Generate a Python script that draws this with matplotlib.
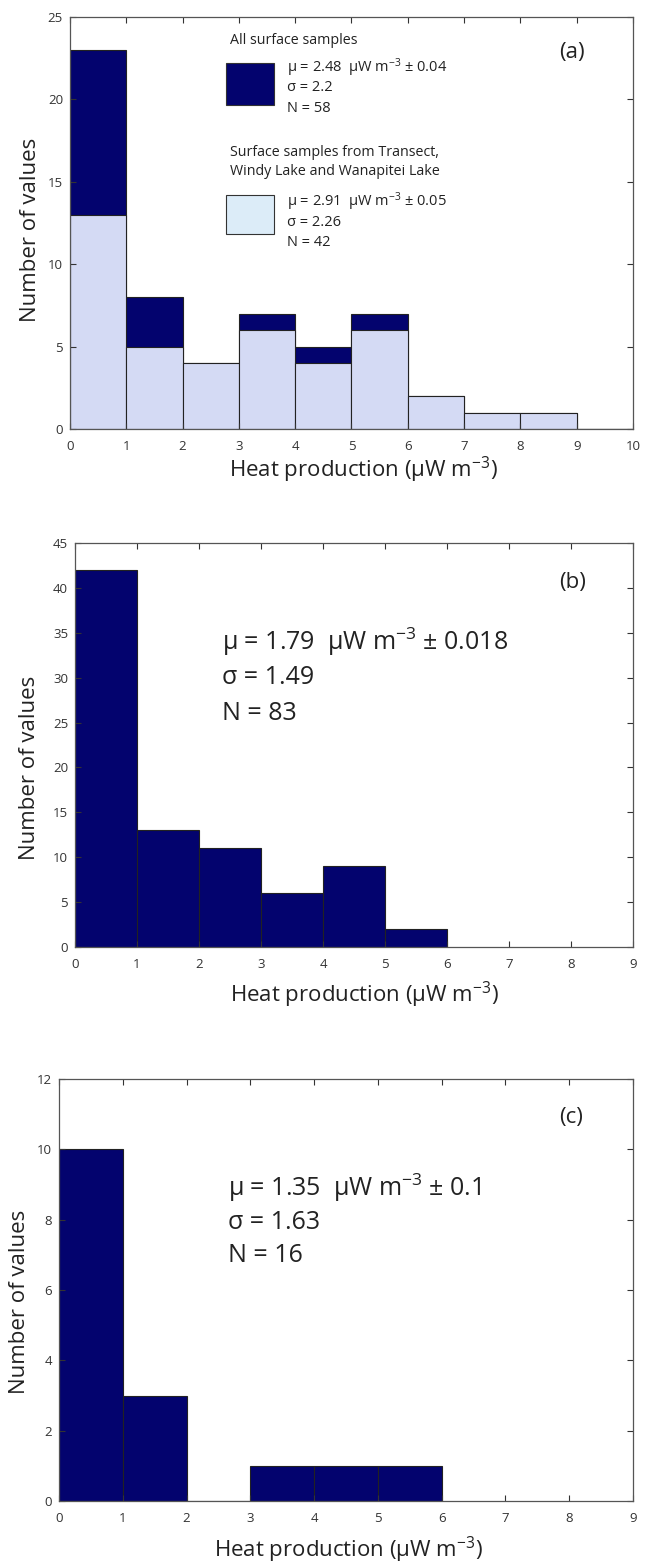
import matplotlib
matplotlib.use("Agg")
import matplotlib.pyplot as plt
from matplotlib.patches import Rectangle
import numpy as np

plt.rcParams['font.family'] = ['Open Sans', 'DejaVu Sans']
plt.rcParams['mathtext.fontset'] = 'custom'
plt.rcParams['mathtext.rm'] = 'Open Sans'
plt.rcParams['mathtext.it'] = 'Open Sans'

NAVY = "#03036e"
LIGHT = "#d4daf4"
LEGEND_LIGHT = "#dcecf8"
EDGE = "#222222"

# panel (a): all surface samples vs. Transect / Windy Lake / Wanapitei Lake subset
bins_a = [0, 1, 2, 3, 4, 5, 6, 7, 8, 9, 10]
all_counts = [23, 8, 4, 7, 5, 7, 2, 1, 1, 0]
subset_counts = [13, 5, 4, 6, 4, 6, 2, 1, 1, 0]

# panel (b)
bins_b = [0, 1, 2, 3, 4, 5, 6]
counts_b = [42, 13, 11, 6, 9, 2]

# panel (c)
bins_c = [0, 1, 2, 3, 4, 5, 6]
counts_c = [10, 3, 0, 1, 1, 1]

XLABEL = "Heat production (\u03bcW m$^{-3}$)"
YLABEL = "Number of values"


def style_axes(ax, xmax, ymax, ystep):
    ax.set_xlim(0, xmax)
    ax.set_ylim(0, ymax)
    ax.set_xticks(np.arange(0, xmax + 1, 1))
    ax.set_yticks(np.arange(0, ymax + 1, ystep))
    ax.tick_params(direction="in", top=True, right=True, length=4, width=0.8,
                   labelsize=9.5, colors="#333333", pad=5)
    ax.tick_params(axis="x", pad=8)
    for s in ax.spines.values():
        s.set_color("#555555")
        s.set_linewidth(0.9)


def add_labels(ax, xl, yl):
    ax.set_xlabel(XLABEL, fontsize=16, color="#222222")
    ax.xaxis.set_label_coords(*xl)
    ax.xaxis.label.set_va("center")
    ax.set_ylabel(YLABEL, fontsize=16, color="#222222")
    ax.yaxis.set_label_coords(*yl)
    ax.yaxis.label.set_va("center")


def draw_bars(ax, bins, counts, color):
    left = np.array(bins[:-1])
    ax.bar(left, counts, width=np.diff(bins), align="edge", color=color,
           edgecolor=EDGE, linewidth=0.8)


fig = plt.figure(figsize=(6.45, 15.67), dpi=100)

# ---- (a)
ax1 = fig.add_axes([0.1085, 0.7262, 0.8729, 0.2629])
draw_bars(ax1, bins_a, all_counts, NAVY)
draw_bars(ax1, bins_a, subset_counts, LIGHT)
style_axes(ax1, 10, 25, 5)
add_labels(ax1, (0.522, -0.0995), (-0.071, 0.483))
ax1.text(0.892, 0.915, "(a)", transform=ax1.transAxes, fontsize=16,
         ha="center", va="center", color="#222222")

tx = 0.385
ax1.text(0.284, 0.944, "All surface samples", transform=ax1.transAxes,
         fontsize=10.3, va="center", color="#222222")
ax1.add_patch(Rectangle((0.277, 0.786), 0.085, 0.102, transform=ax1.transAxes,
                        facecolor=NAVY, edgecolor="#333333", linewidth=0.8))
for y, s in zip([0.876, 0.828, 0.779],
                ["\u03bc = 2.48  \u03bcW m$^{-3}$ \u00b1 0.04", "\u03c3 = 2.2", "N = 58"]):
    ax1.text(tx, y, s, transform=ax1.transAxes, fontsize=10.5, va="center",
             color="#222222")

ax1.text(0.284, 0.672, "Surface samples from Transect,", transform=ax1.transAxes,
         fontsize=10.3, va="center", color="#222222")
ax1.text(0.284, 0.624, "Windy Lake and Wanapitei Lake", transform=ax1.transAxes,
         fontsize=10.3, va="center", color="#222222")
ax1.add_patch(Rectangle((0.277, 0.473), 0.085, 0.095, transform=ax1.transAxes,
                        facecolor=LEGEND_LIGHT, edgecolor="#333333", linewidth=0.8))
for y, s in zip([0.551, 0.502, 0.454],
                ["\u03bc = 2.91  \u03bcW m$^{-3}$ \u00b1 0.05", "\u03c3 = 2.26", "N = 42"]):
    ax1.text(tx, y, s, transform=ax1.transAxes, fontsize=10.5, va="center",
             color="#222222")

# ---- (b)
ax2 = fig.add_axes([0.1163, 0.3957, 0.8651, 0.2578])
draw_bars(ax2, bins_b, counts_b, NAVY)
style_axes(ax2, 9, 45, 5)
add_labels(ax2, (0.518, -0.119), (-0.081, 0.443))
ax2.text(0.892, 0.903, "(b)", transform=ax2.transAxes, fontsize=16,
         ha="center", va="center", color="#222222")
for y, s in zip([0.755, 0.668, 0.579],
                ["\u03bc = 1.79  \u03bcW m$^{-3}$ \u00b1 0.018", "\u03c3 = 1.49", "N = 83"]):
    ax2.text(0.263, y, s, transform=ax2.transAxes, fontsize=18, va="center",
             color="#222222")

# ---- (c)
ax3 = fig.add_axes([0.0915, 0.0421, 0.8899, 0.2693])
draw_bars(ax3, bins_c, counts_c, NAVY)
style_axes(ax3, 9, 12, 2)
add_labels(ax3, (0.505, -0.116), (-0.068, 0.472))
ax3.text(0.892, 0.910, "(c)", transform=ax3.transAxes, fontsize=16,
         ha="center", va="center", color="#222222")
for y, s in zip([0.742, 0.661, 0.581],
                ["\u03bc = 1.35  \u03bcW m$^{-3}$ \u00b1 0.1", "\u03c3 = 1.63", "N = 16"]):
    ax3.text(0.294, y, s, transform=ax3.transAxes, fontsize=18, va="center",
             color="#222222")

fig.savefig("out.png", dpi=100)
